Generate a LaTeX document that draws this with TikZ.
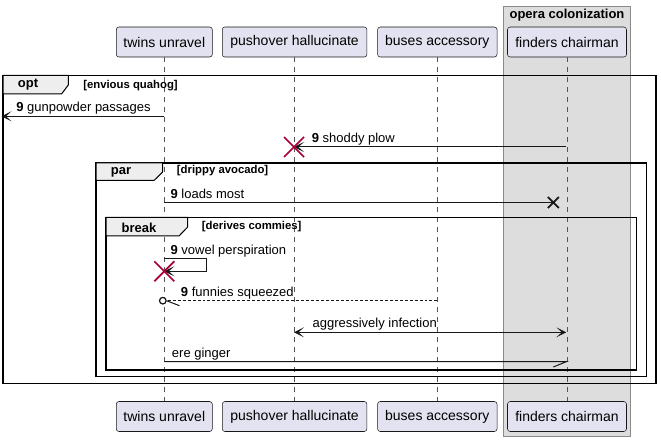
\documentclass[tikz,border=0pt]{standalone}
\usepackage{fontspec}
\setmainfont{Liberation Sans}
\usetikzlibrary{arrows.meta,calc}
\definecolor{partfill}{HTML}{E2E2F0}
\definecolor{lineblk}{HTML}{181818}
\definecolor{boxgray}{HTML}{DDDDDD}
\definecolor{boxedge}{HTML}{8A8A8A}
\definecolor{tabfill}{HTML}{EEEEEE}
\definecolor{xred}{HTML}{A80036}
\definecolor{lifegray}{HTML}{555555}
\tikzset{
  part/.style={draw=lineblk, fill=partfill, rounded corners=2pt, line width=0.4pt,
    font=\fontsize{10.5}{12}\selectfont, minimum height=22.5pt, inner sep=0pt},
  lifeline/.style={draw=lifegray, line width=0.4pt, dash pattern=on 3.75pt off 3.75pt},
  msgtext/.style={font=\fontsize{9.75}{11}\selectfont, anchor=base west, inner sep=0pt, text=black},
  msg/.style={draw=lineblk, line width=0.75pt},
  tip/.style={-{Stealth[length=7.5pt,width=7.5pt,inset=4.2pt]}},
  frameline/.style={draw=black, line width=1.1pt},
  tabshape/.style={draw=black, fill=tabfill, line width=0.75pt},
  tablabel/.style={font=\fontsize{9.75}{11}\bfseries\selectfont, inner sep=0pt},
  condlabel/.style={font=\fontsize{8.5}{10}\bfseries\selectfont, anchor=west, inner sep=0pt},
  redx/.style={draw=xred, line width=1.3pt},
  blackx/.style={draw=lineblk, line width=1.3pt},
}
\begin{document}
\begin{tikzpicture}[x=0.75pt,y=-0.75pt]
\path[use as bounding box, fill=white] (0,0) rectangle (661,442);
% box group
\draw[fill=boxgray, draw=boxedge, line width=0.6pt] (503.3,6) rectangle (630.7,436.7);
\node[font=\fontsize{9.75}{11}\bfseries\selectfont, inner sep=0pt] (grp) at (567,15) {opera colonization};
% participants
\node[part, minimum width=72pt] (twT) at (164.3,42) {twins unravel};
\node[part, minimum width=108.5pt] (puT) at (294.6,42) {pushover hallucinate};
\node[part, minimum width=89.6pt] (buT) at (437.3,42) {buses accessory};
\node[part, minimum width=89.25pt] (fiT) at (567,42) {finders chairman};
\node[part, minimum width=72pt] (twB) at (164.3,416.5) {twins unravel};
\node[part, minimum width=108.5pt] (puB) at (294.6,416.5) {pushover hallucinate};
\node[part, minimum width=89.6pt] (buB) at (437.3,416.5) {buses accessory};
\node[part, minimum width=89.25pt] (fiB) at (567,416.5) {finders chairman};
% lifelines
\path[lifeline] (twT.south) -- (twB.north);
\path[lifeline] (puT.south) -- (puB.north);
\path[lifeline] (buT.south) -- (buB.north);
\path[lifeline] (fiT.south) -- (fiB.north);
% coordinates on lifelines
\coordinate (m1a) at (164.3,116.3);
\coordinate (m1b) at (1.5,116.3);
\coordinate (m2a) at (566.3,147);
\coordinate (m2b) at (294,147);
\coordinate (m3a) at (164.3,202.5);
\coordinate (m3b) at (553.3,202.5);
\coordinate (m4a) at (164.3,258.7);
\coordinate (m4r) at (206.3,258.7);
\coordinate (m4s) at (206.3,271.3);
\coordinate (m4b) at (164.3,271.3);
\coordinate (m5a) at (437.3,300.7);
\coordinate (m5b) at (166.5,300.7);
\coordinate (m5c) at (162.8,300.7);
\coordinate (m6a) at (294,332.3);
\coordinate (m6b) at (566.3,332.3);
\coordinate (m7a) at (164.3,361.7);
\coordinate (m7b) at (566.3,361.7);
% frames
\draw[frameline] (3,75.3) rectangle (656,383.3);
\draw[tabshape] (3,75.3) -- (68.3,75.3) -- (68.3,85) -- (61.5,94) -- (3,94) -- cycle;
\node[tablabel] (optl) at (28,85) {opt};
\node[condlabel] (optc) at (83,86) {[envious quahog]};
\draw[frameline] (96,163) rectangle (646.7,376.7);
\draw[tabshape] (96,163) -- (162.7,163) -- (162.7,172) -- (154,180.5) -- (96,180.5) -- cycle;
\node[tablabel] (parl) at (121,172.5) {par};
\node[condlabel] (parc) at (176.7,171) {[drippy avocado]};
\draw[frameline] (106,217.3) rectangle (636.7,370);
\draw[tabshape] (106,217.3) -- (187.7,217.3) -- (187.7,227) -- (179,236) -- (106,236) -- cycle;
\node[tablabel] (brl) at (139,227.5) {break};
\node[condlabel] (brc) at (201.7,227) {[derives commies]};
% message 1
\draw[msg, tip] (m1a) -- (m1b);
\node[msgtext] (t1) at (16,111.3) {\textbf{9} gunpowder passages};
% message 2
\draw[msg, tip] (m2a) -- (m2b);
\draw[redx] ($(m2b)+(-10,-10)$) -- ($(m2b)+(10,10)$) ($(m2b)+(-10,10)$) -- ($(m2b)+(10,-10)$);
\node[msgtext] (t2) at (311.5,142.2) {\textbf{9} shoddy plow};
% message 3
\draw[msg] (m3a) -- (m3b);
\draw[blackx] ($(m3b)+(-5.5,-5.5)$) -- ($(m3b)+(5.5,5.5)$) ($(m3b)+(-5.5,5.5)$) -- ($(m3b)+(5.5,-5.5)$);
\node[msgtext] (t3) at (170.3,198.2) {\textbf{9} loads most};
% message 4
\draw[msg, tip] (m4a) -- (m4r) -- (m4s) -- (m4b);
\draw[redx] ($(m4b)+(-10,-10)$) -- ($(m4b)+(10,10)$) ($(m4b)+(-10,10)$) -- ($(m4b)+(10,-10)$);
\node[msgtext] (t4) at (170.3,254.2) {\textbf{9} vowel perspiration};
% message 5
\draw[msg, line width=0.6pt, dash pattern=on 2.2pt off 1.5pt] (m5a) -- (m5b);
\draw[msg] (m5b) -- ++(13,5);
\draw[draw=lineblk, line width=0.9pt, fill=white] (m5c) circle (3.3);
\node[msgtext] (t5) at (180.7,296.2) {\textbf{9} funnies squeezed};
% message 6
\draw[msg, {Stealth[length=7.5pt,width=7.5pt,inset=4.2pt]}-{Stealth[length=7.5pt,width=7.5pt,inset=4.2pt]}] (m6a) -- (m6b);
\node[msgtext] (t6) at (312.3,327.8) {aggressively infection};
% message 7
\draw[msg] (m7a) -- (m7b) -- ++(-13,5.3);
\node[msgtext] (t7) at (171.7,357.2) {ere ginger};
\end{tikzpicture}
\end{document}
